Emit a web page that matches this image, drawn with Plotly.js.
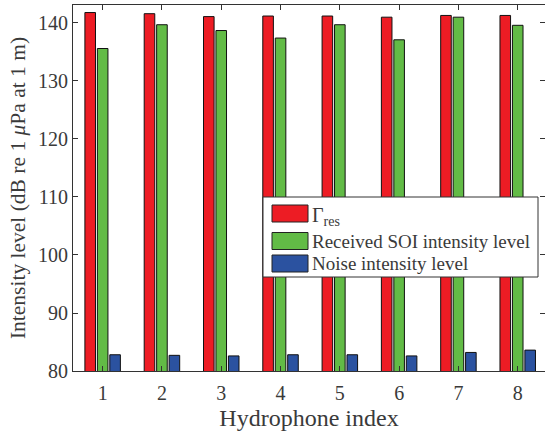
<!DOCTYPE html>
<html>
<head>
<meta charset="utf-8">
<script src="https://cdn.plot.ly/plotly-3.0.1.min.js"></script>
<style>
  html, body { margin: 0; padding: 0; background: #fff; }
  #chart { width: 545px; height: 432px; }
</style>
</head>
<body>
<div id="chart"></div>
<script>
// Hydrophone indices and levels per hydrophone (dB re 1 µPa at 1 m)
const hydrophones = [1, 2, 3, 4, 5, 6, 7, 8];
const gammaRes = [141.8, 141.6, 141.1, 141.2, 141.2, 141.0, 141.3, 141.3];
const receivedSOI = [135.6, 139.7, 138.7, 137.4, 139.7, 137.1, 141.0, 139.6];
const noiseLevel = [82.8, 82.7, 82.6, 82.8, 82.8, 82.6, 83.2, 83.6];

const seriesNames = ['Γ<sub>res</sub>', 'Received SOI intensity level', 'Noise intensity level'];
const seriesColors = ['#ED1C24', '#62BB46', '#2B52A0'];
const seriesValues = [gammaRes, receivedSOI, noiseLevel];

const serif = 'Liberation Serif, Times New Roman, serif';
const textColor = '#3a3a3a';

const traces = seriesValues.map((vals, i) => ({
  type: 'bar',
  x: hydrophones,
  y: vals,
  name: seriesNames[i],
  marker: { color: seriesColors[i], line: { color: '#111', width: 1 } },
  showlegend: false,
  hoverinfo: 'x+y'
}));

// Plot area in pixels, used to place the boxed legend in paper units
const L = 73, R = 545, T = 5, B = 371;
const px = v => (v - L) / (R - L);
const py = v => (B - v) / (B - T);

const shapes = [
  // legend frame
  { type: 'rect', xref: 'paper', yref: 'paper',
    x0: px(263), x1: px(538), y0: py(277), y1: py(197),
    fillcolor: '#fff', line: { color: '#333', width: 1 }, layer: 'above' }
];
const annotations = [];
const rowY = [213.5, 241, 263.5];
const rowFont = [20, 19, 19];
seriesNames.forEach((name, i) => {
  shapes.push({ type: 'rect', xref: 'paper', yref: 'paper',
    x0: px(272), x1: px(308), y0: py(rowY[i] + 8.5), y1: py(rowY[i] - 8.5),
    fillcolor: seriesColors[i], line: { color: '#222', width: 1 }, layer: 'above' });
  annotations.push({ xref: 'paper', yref: 'paper', x: px(310), y: py(i === 0 ? rowY[i] + 3 : rowY[i]),
    xanchor: 'left', yanchor: 'middle', showarrow: false, text: name,
    font: { family: serif, size: rowFont[i], color: textColor } });
});

const layout = {
  width: 545, height: 432,
  margin: { l: 73, r: 0, t: 5, b: 61, pad: 0 },
  paper_bgcolor: '#fff', plot_bgcolor: '#fff',
  barmode: 'group', bargap: 0.37, bargroupgap: 0.15,
  font: { family: serif, color: textColor },
  xaxis: {
    range: [0.5, 8.46], tickmode: 'array', tickvals: hydrophones,
    ticks: 'inside', ticklen: 5, tickcolor: '#333', mirror: 'ticks',
    showline: true, linecolor: '#333', linewidth: 1, showgrid: false, zeroline: false,
    ticklabelstandoff: 4,
    tickfont: { family: serif, size: 20, color: textColor },
    title: { text: 'Hydrophone index', standoff: 6, font: { family: serif, size: 24, color: textColor } }
  },
  yaxis: {
    range: [80, 143.1], tickmode: 'array', tickvals: [80, 90, 100, 110, 120, 130, 140],
    ticks: 'inside', ticklen: 5, tickcolor: '#333', mirror: 'ticks',
    showline: true, linecolor: '#333', linewidth: 1, showgrid: false, zeroline: false,
    tickfont: { family: serif, size: 20, color: textColor },
    title: { text: 'Intensity level (dB re 1 <i>μ</i>Pa at 1 m)', standoff: 6,
             font: { family: serif, size: 21.5, color: textColor } }
  },
  shapes: shapes,
  annotations: annotations
};

Plotly.newPlot('chart', traces, layout, { displayModeBar: false, staticPlot: true });
</script>
</body>
</html>
